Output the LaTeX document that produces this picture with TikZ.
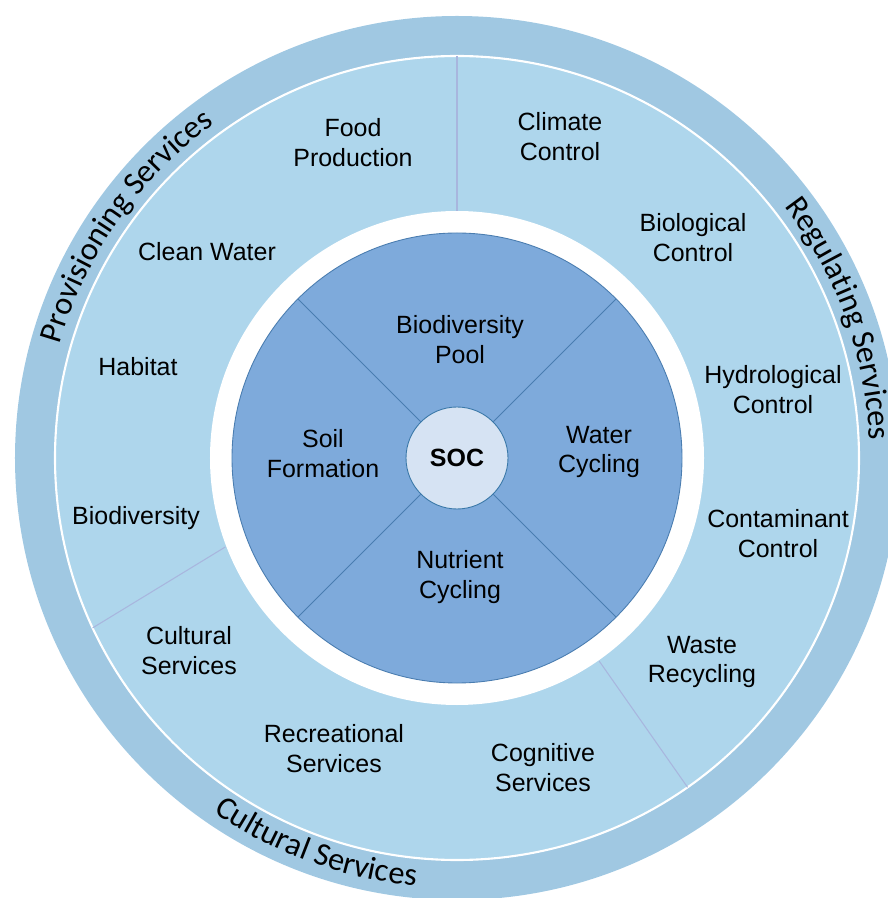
\documentclass[tikz,border=0pt]{standalone}
\usepackage{fontspec}
\setmainfont{Liberation Sans}
\newfontfamily\ringfont{Carlito}
\usetikzlibrary{decorations.text}

\definecolor{outerring}{HTML}{A0C8E2}
\definecolor{servring}{HTML}{AED6EC}
\definecolor{coredisc}{HTML}{7EAADB}
\definecolor{socfill}{HTML}{D6E3F3}
\definecolor{socline}{HTML}{3A78A8}
\definecolor{coreline}{HTML}{4A7DB0}
\definecolor{servline}{HTML}{A8B6DE}

\tikzset{
  lbl/.style={align=center, text=black, inner sep=0pt, font=\fontsize{14.2}{17}\selectfont},
  socnode/.style={circle, draw=socline, fill=socfill, line width=0.5pt, minimum size=2.04cm,
    font=\bfseries\fontsize{14.2}{17}\selectfont},
  divider/.style={servline, line width=0.6pt},
  coredivider/.style={coreline, line width=0.5pt},
}

\begin{document}
\begin{tikzpicture}[x=0.02cm, y=0.02cm]
\useasboundingbox (-457,-440) rectangle (430,458);

% rings
\fill[outerring] (0,0) circle[radius=442];
\draw[white, line width=1.2pt, fill=servring] (0,0) circle[radius=402];
\fill[white] (0,0) circle[radius=247];
\draw[coreline, line width=0.5pt, fill=coredisc] (0,0) circle[radius=225];

% service dividers
\draw[divider] (90:247) -- (90:402);
\draw[divider] (201:248) -- (205:402);
\draw[divider] (305:248) -- (305:402);

% centre
\node[socnode] (soc) at (0,0) {SOC};
\foreach \a in {45,135,225,315}
  \draw[coredivider] (soc.\a) -- (\a:225);

% ring titles
\path[decorate, decoration={text along path, text align=center,
  text={|\ringfont\fontsize{18.4}{20}\selectfont|Provisioning Services}}]
  (180:413) arc[start angle=180, end angle=110, radius=413];
\path[decorate, decoration={text along path, text align=center,
  text={|\ringfont\fontsize{18.4}{20}\selectfont|Regulating Services}}]
  (55:413) arc[start angle=55, end angle=-15, radius=413];
\path[decorate, decoration={text along path, text align=center,
  text={|\ringfont\fontsize{18.4}{20}\selectfont|Cultural Services}}]
  (215:430) arc[start angle=215, end angle=285, radius=430];

% core functions
\node[lbl] (pool) at (3,118) {Biodiversity\\Pool};
\node[lbl] (soil) at (-134,4) {Soil\\Formation};
\node[lbl] (water) at (142,6) {Water\\Cycling};
\node[lbl] (nutrient) at (3,-119) {Nutrient\\Cycling};

% provisioning
\node[lbl] (food) at (-104,315) {Food\\Production};
\node[lbl] (clean) at (-250,206) {Clean Water};
\node[lbl] (habitat) at (-319,91) {Habitat};
\node[lbl] (biodiv) at (-321,-60) {Biodiversity};

% regulating
\node[lbl] (climate) at (103,321) {Climate\\Control};
\node[lbl] (biological) at (236,220) {Biological\\Control};
\node[lbl] (hydro) at (316,68) {Hydrological\\Control};
\node[lbl] (contam) at (321,-76) {Contaminant\\Control};
\node[lbl] (waste) at (245,-204) {Waste\\Recycling};

% cultural
\node[lbl] (cultural) at (-268,-193) {Cultural\\Services};
\node[lbl] (recreation) at (-123,-291) {Recreational\\Services};
\node[lbl] (cognitive) at (86,-310) {Cognitive\\Services};
\end{tikzpicture}
\end{document}
